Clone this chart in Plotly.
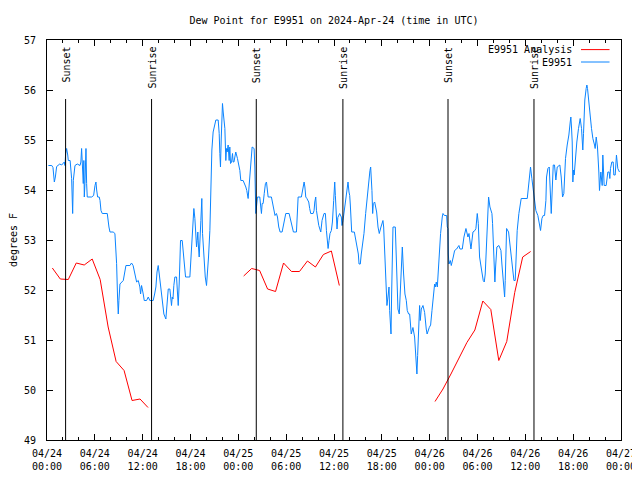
import pandas as pd
import plotly.graph_objects as go

BASE = pd.Timestamp("2024-04-24 00:00")
END = pd.Timestamp("2024-04-27 00:00")

# ---- E9951 observations (hours after 2024-04-24 00:00 UTC, dew point F) ----
obs_hours_a = [0.17, 0.6, 0.75, 0.92, 1.05, 1.21, 1.6, 1.84, 2.17, 2.25,
               2.34, 2.46, 2.6, 2.67, 2.9, 2.97, 3.09, 3.22, 3.3, 3.51,
               3.8, 4.14, 4.25, 4.34, 4.42, 4.55, 4.62, 4.68, 4.76, 4.89,
               4.97, 5.05, 5.6, 5.85, 6.02, 6.14, 6.23, 6.35, 6.55, 6.65,
               6.77, 6.93, 7.56, 7.65, 7.77, 7.9, 8.3, 8.52, 8.6, 8.73,
               8.85, 8.94, 9.02, 9.15, 9.57, 9.78, 9.9, 10.4, 10.6, 10.8,
               11.03, 11.24, 11.45, 11.65]
obs_dew_a = [54.49, 54.49, 54.45, 54.16, 54.26, 54.47, 54.52, 54.5, 54.56, 54.49,
             54.73, 54.83, 54.7, 54.59, 54.59, 54.46, 54.23, 53.53, 54.19, 54.49,
             54.52, 54.49, 54.56, 54.83, 54.49, 54.13, 54.59, 53.86, 54.13, 54.83,
             54.13, 53.86, 53.86, 53.89, 54.09, 54.16, 54.0, 53.86, 53.86, 53.79,
             53.59, 53.53, 53.53, 53.39, 53.26, 53.16, 53.16, 53.13, 52.96, 52.53,
             51.86, 51.52, 51.79, 52.12, 52.19, 52.39, 52.49, 52.49, 52.54, 52.49,
             52.32, 52.16, 52.19, 52.06]

obs_hours_b = [11.74, 11.86, 12.07, 12.2, 12.49, 12.7, 12.9, 13.32, 13.5, 13.66,
               13.8, 13.95, 14.05, 14.16, 14.41, 14.55, 14.66, 14.91, 15.0, 15.12,
               15.21, 15.41, 15.62, 15.71, 15.8, 15.91, 16.04, 16.25, 16.37, 16.46,
               16.58, 16.67, 16.75, 16.96, 17.08, 17.21, 17.38, 17.92, 18.13, 18.34,
               18.42, 18.55, 18.76, 18.84, 18.92, 19.0, 19.09, 19.3, 19.42, 19.51,
               19.72, 19.85, 20.01, 20.13, 20.26, 20.43, 20.51, 20.59, 20.68, 20.84,
               21.18, 21.47, 21.6, 21.68, 21.76, 21.85, 21.93, 22.01, 22.1, 22.2,
               22.31, 22.43, 22.52, 22.6, 22.72, 22.85, 22.93, 23.02, 23.15, 23.27,
               23.35, 23.45, 23.56, 23.68, 23.89, 24.1, 24.19, 24.31, 24.6]
obs_dew_b = [51.92, 52.09, 51.92, 51.79, 51.79, 51.86, 51.79, 51.79, 51.92, 52.06,
             52.36, 52.49, 52.36, 52.22, 51.89, 51.66, 51.52, 51.42, 51.56, 51.79,
             52.02, 52.02, 51.69, 51.86, 51.82, 52.09, 52.26, 52.26, 51.82, 51.69,
             52.12, 52.66, 52.99, 52.99, 52.73, 52.49, 52.26, 52.26, 52.76, 53.43,
             53.63, 53.43, 52.86, 52.99, 53.16, 52.86, 52.66, 53.39, 53.83, 53.13,
             52.49, 52.26, 52.09, 52.32, 52.66, 53.19, 53.63, 54.33, 54.8, 55.16,
             55.4, 55.4, 55.13, 54.73, 54.46, 55.0, 55.56, 55.73, 55.56, 55.33,
             55.23, 54.59, 54.83, 54.76, 54.9, 54.59, 54.86, 54.53, 54.56, 54.73,
             54.56, 54.56, 54.69, 54.76, 54.63, 54.46, 54.39, 54.19, 54.19]

obs_hours_c = [24.94, 25.06, 25.23, 25.35, 25.44, 25.57, 25.73, 25.98, 26.07, 26.19,
               26.28, 26.4, 26.69, 26.8, 26.9, 26.99, 27.11, 27.25, 27.4, 27.53,
               27.62, 27.74, 28.15, 28.3, 28.45, 28.6, 28.78, 28.91, 29.07, 29.24,
               29.49, 29.65, 29.83, 29.95, 30.37, 30.55, 30.74, 30.91, 31.29, 31.5,
               31.91, 32.12, 32.25, 32.35, 32.46, 32.6, 32.83, 32.95, 33.08, 33.38,
               33.5, 33.59, 33.71, 33.8, 33.92, 34.09, 34.34, 34.5, 34.75, 34.92,
               35.05, 35.17, 35.26, 35.38, 35.5, 35.67, 35.8]
obs_dew_c = [54.06, 53.99, 53.83, 54.06, 54.26, 54.53, 54.86, 54.83, 54.46, 53.53,
             53.66, 53.86, 53.86, 53.63, 53.53, 53.73, 53.73, 53.93, 54.13, 54.16,
             53.96, 53.86, 53.86, 53.73, 53.56, 53.49, 53.53, 53.46, 53.26, 53.16,
             53.16, 53.29, 53.39, 53.53, 53.53, 53.39, 53.26, 53.16, 53.16, 53.86,
             53.86, 54.03, 54.16, 54.06, 53.86, 53.83, 53.76, 53.63, 53.53, 53.53,
             53.59, 53.76, 53.86, 53.59, 53.46, 53.29, 53.16, 53.39, 53.53, 53.53,
             53.19, 53.03, 52.83, 52.99, 53.13, 53.19, 53.36]

obs_hours_d = [35.96, 36.09, 36.17, 36.3, 36.38, 36.48, 36.71, 36.92, 37.0, 37.13,
               37.3, 37.55, 37.76, 37.88, 37.97, 38.05, 38.13, 38.22, 38.55, 38.8,
               39.05, 39.14, 39.3, 39.42, 39.55, 39.76, 39.97, 40.14, 40.35, 40.51,
               40.6, 40.68, 40.76, 40.85, 40.93, 41.1, 41.35, 41.52, 41.68, 41.89,
               42.14, 42.23, 42.39, 42.56, 42.64, 42.81, 42.9, 42.98, 43.07, 43.15,
               43.23, 43.31, 43.4, 43.69, 43.86, 44.02, 44.19, 44.36, 44.57, 44.73,
               44.9, 45.07, 45.19, 45.36, 45.49, 45.69, 45.9, 46.11, 46.28, 46.4,
               46.49, 46.65, 46.74, 46.82, 46.95, 47.16, 47.37]
obs_dew_d = [53.79, 54.16, 53.89, 53.5, 53.22, 53.45, 53.53, 53.46, 53.29, 53.39,
             53.59, 53.93, 54.16, 53.96, 53.89, 53.7, 53.46, 53.16, 53.16, 52.93,
             52.72, 52.52, 52.52, 52.72, 52.86, 53.13, 53.53, 53.83, 54.19, 54.39,
             54.46, 54.26, 53.99, 53.53, 53.73, 53.76, 53.56, 53.26, 53.13, 53.26,
             53.39, 53.26, 52.59, 51.92, 51.69, 51.92, 52.06, 51.59, 51.35, 51.12,
             51.92, 52.72, 53.26, 53.26, 52.46, 51.62, 51.52, 52.12, 52.86, 52.32,
             51.92, 51.79, 51.59, 51.52, 51.52, 51.12, 51.25, 51.06, 50.72, 50.32,
             50.69, 51.52, 51.69, 51.39, 51.62, 51.69, 51.55]

obs_hours_e = [47.57, 47.68, 47.95, 48.12, 48.29, 48.54, 48.62, 48.71, 48.83, 48.96,
               49.12, 49.37, 49.58, 49.67, 49.85, 50.13, 50.21, 50.29, 50.34, 50.42,
               50.59, 50.71, 50.96, 51.13, 51.38, 51.67, 51.8, 52.09, 52.3, 52.55,
               52.8, 52.93, 53.18, 53.43, 53.68, 53.8, 53.97, 54.1, 54.26, 54.39,
               54.55, 54.72, 54.85, 54.97, 55.1, 55.22, 55.39, 55.56, 55.81, 55.89,
               55.97, 56.06, 56.18, 56.27, 56.43, 56.68, 56.94, 57.06, 57.23, 57.4,
               57.48, 57.56, 57.65, 57.9, 58.06, 58.23, 58.48, 58.57, 58.73, 58.9,
               58.98, 59.19, 59.4, 59.48, 60.24, 60.4, 60.57, 60.65, 60.82, 60.99,
               61.16, 61.32, 61.57, 61.74, 61.91, 62.08, 62.24, 62.41, 62.58, 62.66,
               62.83, 63.0, 63.08, 63.16, 63.25, 63.33, 63.5, 63.66, 63.83, 64.0,
               64.33, 64.5, 64.67, 64.83]
obs_dew_e = [51.22, 51.12, 51.25, 51.3, 51.59, 51.92, 52.12, 52.06, 52.16, 52.06,
             52.56, 53.13, 53.46, 53.53, 53.49, 53.49, 53.26, 53.23, 52.72, 52.52,
             52.59, 52.49, 52.66, 52.79, 52.82, 52.89, 52.82, 52.82, 53.06, 53.23,
             53.06, 53.13, 52.82, 53.16, 53.19, 53.23, 53.53, 53.33, 52.66, 52.46,
             52.36, 52.19, 52.16, 52.32, 52.86, 53.19, 53.86, 53.66, 53.53, 53.33,
             52.99, 52.52, 52.16, 52.46, 52.86, 52.89, 52.79, 52.52, 52.12, 51.86,
             52.19, 52.72, 53.23, 53.16, 52.93, 52.72, 52.32, 52.19, 52.19, 52.79,
             53.19, 53.53, 53.79, 53.83, 53.83, 54.06, 54.33, 54.46, 54.23, 54.0,
             53.86, 53.59, 53.49, 53.36, 53.19, 53.43, 53.49, 53.49, 53.79, 54.26,
             54.43, 54.46, 54.26, 53.86, 53.53, 53.93, 54.5, 54.5, 54.2, 54.46,
             54.5, 54.26, 53.86, 53.93]

obs_hours_f = [65.04, 65.25, 65.46, 65.63, 65.71, 65.79, 65.88, 65.96, 66.04, 66.13,
               66.29, 66.46, 66.67, 66.88, 67.05, 67.21, 67.3, 67.46, 67.63, 67.72,
               67.8, 67.97, 68.13, 68.3, 68.47, 68.68, 68.76, 68.89, 69.05, 69.22,
               69.3, 69.47, 69.64, 69.72, 69.89, 70.14, 70.35, 70.51, 70.6, 70.68,
               70.85, 71.02, 71.1, 71.27, 71.35, 71.43, 71.6, 71.81]
obs_dew_f = [54.63, 54.9, 55.1, 55.36, 55.46, 55.26, 54.96, 54.16, 54.4, 54.3,
             54.73, 54.96, 55.23, 55.43, 55.23, 54.8, 55.13, 55.8, 56.03, 56.1,
             56.03, 55.67, 55.5, 55.23, 55.03, 54.9, 54.83, 55.06, 54.86, 54.36,
             53.99, 54.36, 54.09, 54.7, 54.09, 54.09, 54.36, 54.36, 54.23, 54.43,
             54.56, 54.56, 54.3, 54.3, 54.56, 54.7, 54.43, 54.36]

# ---- E9951 Analysis (hourly, three nightly runs) ----
analysis_hours_1 = [0.67, 1.67, 2.67, 3.67, 4.67, 5.67, 6.67, 7.67, 8.67, 9.67, 10.67, 11.67, 12.67]
analysis_dew_1 = [52.44, 52.22, 52.21, 52.54, 52.50, 52.62, 52.21, 51.26, 50.57, 50.39, 49.79, 49.82, 49.65]
analysis_hours_2 = [24.67, 25.67, 26.67, 27.67, 28.67, 29.67, 30.67, 31.67, 32.67, 33.67, 34.67, 35.67, 36.67]
analysis_dew_2 = [52.28, 52.43, 52.39, 52.02, 51.97, 52.54, 52.37, 52.37, 52.58, 52.46, 52.71, 52.78, 52.09]
analysis_hours_3 = [48.67, 49.67, 50.67, 51.67, 52.67, 53.67, 54.67, 55.67, 56.67, 57.67, 58.67, 59.67, 60.67]
analysis_dew_3 = [49.77, 50.02, 50.32, 50.65, 50.95, 51.20, 51.78, 51.61, 50.59, 50.97, 51.95, 52.66, 52.77]

sunset_times = ["2024-04-24 02:20", "2024-04-25 02:15", "2024-04-26 02:18"]
sunrise_times = ["2024-04-24 13:07", "2024-04-25 13:07", "2024-04-26 13:05"]

obs_hours = obs_hours_a + obs_hours_b + obs_hours_c + obs_hours_d + obs_hours_e + obs_hours_f
obs_dew = obs_dew_a + obs_dew_b + obs_dew_c + obs_dew_d + obs_dew_e + obs_dew_f
if len(obs_hours) != len(obs_dew):
    raise ValueError(f"length mismatch {len(obs_hours)} {len(obs_dew)}")

def to_time(hours):
    return [BASE + pd.Timedelta(hours=h) if h is not None else None for h in hours]

an_hours = analysis_hours_1 + [None] + analysis_hours_2 + [None] + analysis_hours_3
an_dew = analysis_dew_1 + [None] + analysis_dew_2 + [None] + analysis_dew_3

MONO = "DejaVu Sans Mono"
RED = "#ff0000"
BLUE = "#0a84ff"

# the page body adds an 8 px offset; compensate so the plot box sits at x 47..621, y 40..440
OFF = 8
ML, MR, MT, MB = 47 - OFF, 19 + OFF, 40 - OFF, 40 + OFF

fig = go.Figure()
fig.add_trace(go.Scatter(x=to_time(an_hours), y=an_dew, mode="lines",
                         line=dict(color=RED, width=1), name="E9951 Analysis",
                         connectgaps=False))
fig.add_trace(go.Scatter(x=to_time(obs_hours), y=obs_dew, mode="lines",
                         line=dict(color=BLUE, width=1), name="E9951"))

shapes = []
annotations = []
LINE_TOP = 0.8525
for t, lab in [(s, "Sunset") for s in sunset_times] + [(s, "Sunrise") for s in sunrise_times]:
    shapes.append(dict(type="line", xref="x", yref="paper", x0=t, x1=t, y0=0, y1=LINE_TOP,
                       line=dict(color="black", width=1)))
    annotations.append(dict(x=t, xref="x", y=0.9875, yref="paper", text=lab,
                            textangle=-90, showarrow=False, xanchor="center", yanchor="top",
                            xshift=1, font=dict(family=MONO, size=10, color="black")))

# legend (gnuplot style: label on the left, sample line on the right)
for txt, col, ypos in [("E9951 Analysis", RED, 0.976), ("E9951", BLUE, 0.945)]:
    annotations.append(dict(x=0.918, xref="paper", y=ypos, yref="paper", text=txt,
                            showarrow=False, xanchor="right", yanchor="middle",
                            font=dict(family=MONO, size=10, color="black")))
    shapes.append(dict(type="line", xref="paper", yref="paper", x0=0.9303, x1=0.98,
                       y0=ypos, y1=ypos, line=dict(color=col, width=1)))

fig.update_layout(
    width=640, height=480, autosize=False,
    margin=dict(l=ML, r=MR, t=MT, b=MB, pad=0),
    paper_bgcolor="white", plot_bgcolor="white",
    showlegend=False,
    title=dict(text="Dew Point for E9951 on 2024-Apr-24 (time in UTC)",
               x=0.5, xref="paper", xanchor="center",
               y=1 - (20 - OFF) / 480, yref="container", yanchor="middle", automargin=False,
               font=dict(family=MONO, size=10, color="black")),
    shapes=shapes, annotations=annotations,
)
fig.update_xaxes(
    type="date", range=[BASE, END], tick0=BASE, dtick=6 * 3600 * 1000,
    tickformat="%m/%d<br>%H:%M", ticks="inside", ticklen=6, tickcolor="black",
    mirror="allticks", showline=True, linecolor="black", linewidth=1,
    showgrid=False, zeroline=False, automargin=False, ticklabelstandoff=4,
    minor=dict(dtick=2 * 3600 * 1000, ticks="inside", ticklen=3, tickcolor="black", showgrid=False),
    tickfont=dict(family=MONO, size=10, color="black"),
)
fig.update_yaxes(
    range=[49, 57], dtick=1, ticks="inside", ticklen=6, tickcolor="black",
    mirror="allticks", showline=True, linecolor="black", linewidth=1,
    showgrid=False, zeroline=False, ticklabelstandoff=8, automargin=False,
    tickfont=dict(family=MONO, size=10, color="black"),
    title=dict(text="degrees F", font=dict(family=MONO, size=10, color="black"), standoff=7),
)

fig.write_html("out.html")
